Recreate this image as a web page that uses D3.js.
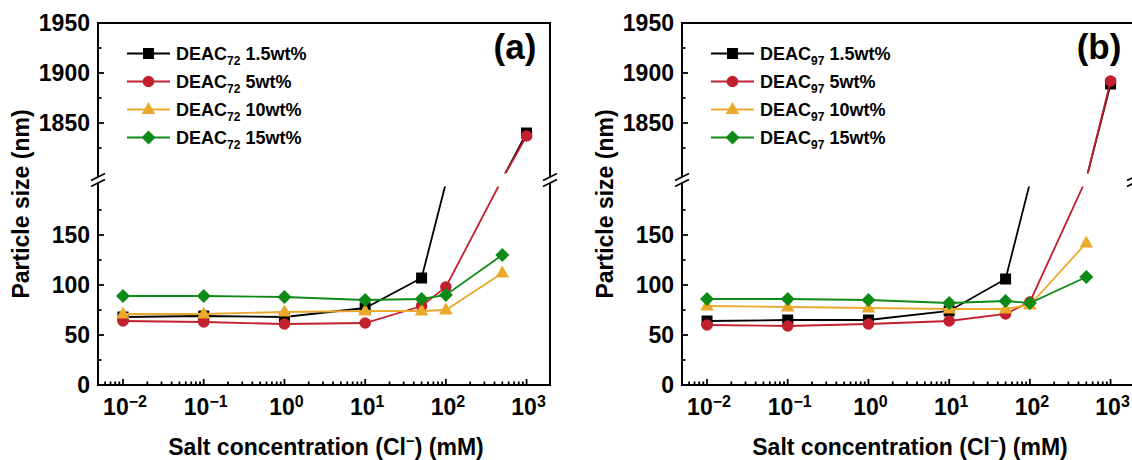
<!DOCTYPE html>
<html><head><meta charset="utf-8">
<script src="https://cdn.jsdelivr.net/npm/d3@7"></script>
<style>
body{margin:0;background:#fff}
svg{display:block}
text{font-family:"Liberation Sans",Arial,sans-serif;font-weight:bold;fill:#000}
</style>
</head><body>
<svg id="chart" width="1132" height="460"></svg>
<script>
// ---- data (mM on x, particle size nm on y) ----
const concentrations = [0.01, 0.1, 1, 10, 50, 100, 500, 1000];
const seriesNames = ["1.5wt%", "5wt%", "10wt%", "15wt%"];
const seriesColors = ["#000000", "#C3202F", "#EBA92C", "#0E8A16"];
const seriesShapes = ["square", "circle", "triangle", "diamond"];
// values that fall inside the axis break (200–1800) are hidden by the break band
const a_black  = [68, 69, 68, 77, 107, 470, 1000, 1840];
const a_red    = [64, 63, 61, 62, 79, 98, 1000, 1837];
const a_yellow = [71, 71, 73, 74, 74, 75, 112, null];
const a_green  = [89, 89, 88, 85, 86, 90, 130, null];
const b_black  = [64, 65, 65, 74, 106, 450, 1000, 1889];
const b_red    = [60, 59, 61, 64, 71, 83, 1000, 1892];
const b_yellow = [79, 78, 77, 76, 76, 80, 142, null];
const b_green  = [86, 86, 85, 82, 84, 82, 108, null];
const panelLabels = ["(a)", "(b)"];
const panelSubs = ["72", "97"];
const yTicksLower = [0, 50, 100, 150];
const yMinorLower = [25, 75, 125, 175];
const yTicksUpper = [1850, 1900, 1950];
const yMinorUpper = [1825, 1875, 1925];
const xTickExps = [-2, -1, 0, 1, 2, 3];
const supMap = {"-2":"\u22122","-1":"\u22121","0":"0","1":"1","2":"2","3":"3"};

const panels = [
  {left: 98,  label: panelLabels[0], sub: panelSubs[0], series: [a_black, a_red, a_yellow, a_green]},
  {left: 682, label: panelLabels[1], sub: panelSubs[1], series: [b_black, b_red, b_yellow, b_green]}
];

const svg = d3.select("#chart");
const W = 452, TOP = 23, BOT = 385;
const BAND_TOP = 173.5, BAND_BOT = 186.5, BRK = 180;
const x = d3.scaleLog().domain([Math.pow(10, -2.31), Math.pow(10, 3.29)]).range([0, W]);
const y = d3.scaleLinear().domain([0, 200, 1800, 1950]).range([BOT, 185, 173, TOP]);

function markerPath(shape) {
  if (shape === "square") return "M-5.5,-5.5H5.5V5.5H-5.5Z";
  if (shape === "circle") return d3.symbol(d3.symbolCircle, 105)();
  if (shape === "triangle") return "M0,-7.5L6.8,4.5L-6.8,4.5Z";
  return "M0,-7L7,0L0,7L-7,0Z";
}

panels.forEach((p, pi) => {
  const g = svg.append("g").attr("transform", `translate(${p.left},0)`);
  const clipId = "clip" + pi;
  g.append("clipPath").attr("id", clipId).append("rect")
    .attr("x", 0).attr("y", TOP).attr("width", W).attr("height", BOT - TOP);
  const plot = g.append("g").attr("clip-path", `url(#${clipId})`);

  const line = d3.line()
    .defined(d => d.v != null)
    .x(d => x(d.c)).y(d => y(d.v));

  p.series.forEach((vals, si) => {
    const pts = concentrations.map((c, i) => ({c, v: vals[i]}));
    plot.append("path").datum(pts)
      .attr("d", line).attr("fill", "none")
      .attr("stroke", seriesColors[si]).attr("stroke-width", 1.8);
    plot.selectAll(null)
      .data(pts.filter(d => d.v != null && (d.v <= 200 || d.v >= 1800)))
      .enter().append("path")
      .attr("d", markerPath(seriesShapes[si]))
      .attr("transform", d => `translate(${x(d.c)},${y(d.v)})`)
      .attr("fill", seriesColors[si]);
  });

  // break band
  g.append("rect").attr("x", 1).attr("y", BAND_TOP).attr("width", W - 2)
    .attr("height", BAND_BOT - BAND_TOP).attr("fill", "#fff");

  // frame
  const ax = g.append("g").attr("stroke", "#000").attr("stroke-width", 2).attr("fill", "none");
  ax.append("line").attr("x1", -1).attr("x2", W + 1).attr("y1", TOP).attr("y2", TOP);
  ax.append("line").attr("x1", -1).attr("x2", W + 1).attr("y1", BOT).attr("y2", BOT);
  [0, W].forEach(xx => {
    ax.append("line").attr("x1", xx).attr("x2", xx).attr("y1", TOP).attr("y2", BRK - 3);
    ax.append("line").attr("x1", xx).attr("x2", xx).attr("y1", BRK + 3).attr("y2", BOT);
    [-3, 3].forEach(o => {
      ax.append("line").attr("x1", xx - 7).attr("y1", BRK + o + 3.5)
        .attr("x2", xx + 7).attr("y2", BRK + o - 3.5).attr("stroke-width", 1.8);
    });
  });

  // y ticks
  const yt = g.append("g").attr("stroke", "#000").attr("stroke-width", 1.8);
  yTicksLower.concat(yTicksUpper).forEach(v => {
    yt.append("line").attr("x1", 0).attr("x2", 6).attr("y1", y(v)).attr("y2", y(v));
  });
  yMinorLower.concat(yMinorUpper).forEach(v => {
    yt.append("line").attr("x1", 0).attr("x2", 3.5).attr("y1", y(v)).attr("y2", y(v));
  });
  yTicksLower.concat(yTicksUpper).forEach(v => {
    g.append("text").attr("x", -8).attr("y", y(v)).attr("dy", "0.35em")
      .attr("text-anchor", "end").attr("font-size", 23).text(v);
  });

  // x ticks
  xTickExps.forEach(e => {
    const c = Math.pow(10, e);
    yt.append("line").attr("x1", x(c)).attr("x2", x(c)).attr("y1", BOT).attr("y2", BOT - 6);
    const t = g.append("text").attr("x", x(c) + 2).attr("y", 415)
      .attr("text-anchor", "middle").attr("font-size", 23);
    t.append("tspan").text("10");
    t.append("tspan").attr("font-size", 16).attr("dy", -8).text(supMap[String(e)]);
  });
  for (let e = -3; e <= 3; e++) {
    for (let k = 2; k <= 9; k++) {
      const c = k * Math.pow(10, e);
      const xx = x(c);
      if (xx < 1 || xx > W - 1) continue;
      yt.append("line").attr("x1", xx).attr("x2", xx).attr("y1", BOT).attr("y2", BOT - 3.5);
    }
  }

  // axis titles
  g.append("text")
    .attr("transform", `translate(${-77},204) rotate(-90)`)
    .attr("dy", "0.35em").attr("text-anchor", "middle").attr("font-size", 23)
    .text("Particle size (nm)");
  const xt = g.append("text").attr("x", 228).attr("y", 455)
    .attr("text-anchor", "middle").attr("font-size", 23);
  xt.append("tspan").text("Salt concentration (Cl");
  xt.append("tspan").attr("font-size", 15).attr("dy", -9).text("\u2212");
  xt.append("tspan").attr("dy", 9).text(") (mM)");

  // panel label
  g.append("text").attr("x", 417).attr("y", 59).attr("text-anchor", "middle")
    .attr("font-size", 35).text(p.label);

  // legend
  const rows = [53.5, 81.5, 109.5, 137.5];
  seriesNames.forEach((name, si) => {
    const ly = rows[si];
    g.append("line").attr("x1", 29).attr("x2", 72).attr("y1", ly).attr("y2", ly)
      .attr("stroke", seriesColors[si]).attr("stroke-width", 1.8);
    g.append("path").attr("d", markerPath(seriesShapes[si]))
      .attr("transform", `translate(50.5,${ly})`).attr("fill", seriesColors[si]);
    const t = g.append("text").attr("x", 78).attr("y", ly + 6.5).attr("font-size", 18);
    t.append("tspan").text("DEAC");
    t.append("tspan").attr("font-size", 12).attr("dy", 5).text(p.sub);
    t.append("tspan").attr("dy", -5).text(" " + name);
  });
});
</script>
</body></html>
